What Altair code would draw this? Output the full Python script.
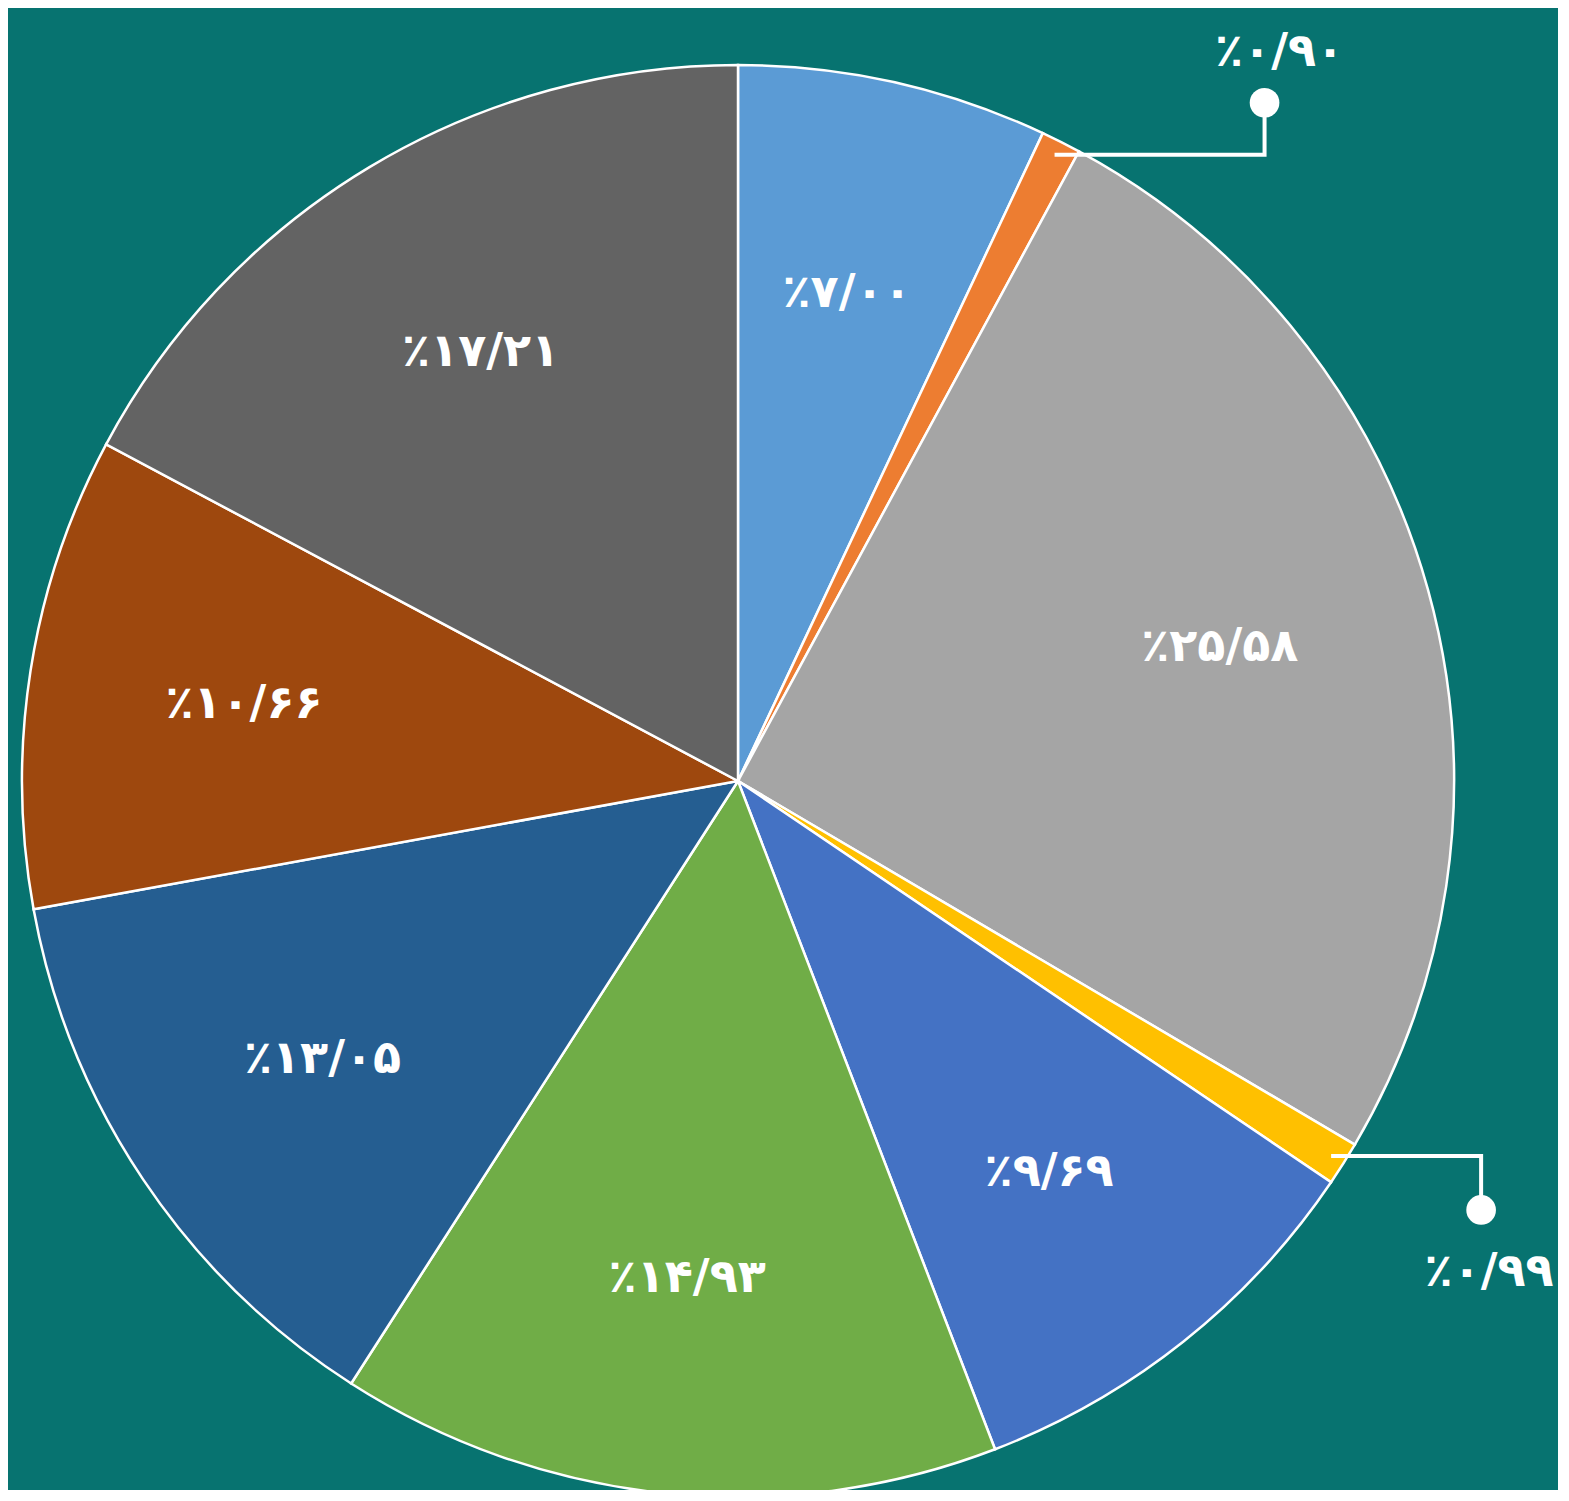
import math
import altair as alt
import pandas as pd

# ---- data ----
values = [7.00, 0.90, 25.58, 0.99, 9.69, 14.93, 13.05, 10.66, 17.21]
colors = ["#5B9BD5", "#ED7D31", "#A5A5A5", "#FFC000", "#4472C4",
          "#70AD47", "#255E91", "#9E480E", "#636363"]

PERSIAN = str.maketrans("0123456789", "۰۱۲۳۴۵۶۷۸۹")


def fa_label(v):
    return "٪" + f"{v:.2f}".replace(".", "/").translate(PERSIAN)


labels = [fa_label(v) for v in values]

# ---- layout constants ----
W, H = 1550, 1482
CX, CY = 730, 773
R = 716
LABEL_R = 500
BG = "#077370"

df = pd.DataFrame({
    "idx": list(range(len(values))),
    "value": values,
    "label": labels,
})

color_scale = alt.Scale(domain=labels, range=colors)

base = alt.Chart(df).encode(
    theta=alt.Theta("value:Q", stack=True),
    order=alt.Order("idx:Q"),
)

pie = base.mark_arc(outerRadius=R, stroke="white", strokeWidth=2.5).encode(
    x=alt.value(CX), y=alt.value(CY),
    color=alt.Color("label:N", scale=color_scale, legend=None),
)

inner_text = base.mark_text(
    radius=LABEL_R, font="DejaVu Sans", fontWeight="bold", fontSize=46,
    color="white", align="center", baseline="middle",
).encode(
    x=alt.value(CX), y=alt.value(CY),
    text=alt.condition("datum.value > 2", alt.Text("label:N"), alt.value("")),
)

# ---- leader lines for the two small slices (derived from slice mid-angles) ----
total = sum(values)
cum = 0.0
mids = []
for v in values:
    mids.append((cum + v / 2) / total * 2 * math.pi)
    cum += v

leader_cfg = {1: (210, -52, -51, 15), 3: (150, 54, 62, 8)}  # dx, dy, label dy, label dx
line_rows, dot_rows, lab_rows = [], [], []
for i, (dx, dy, ldy, ldx) in leader_cfg.items():
    a = mids[i]
    sx = CX + 0.98 * R * math.sin(a)
    sy = CY - 0.98 * R * math.cos(a)
    ex, ey = sx + dx, sy
    px, py = ex, sy + dy
    line_rows += [
        {"g": i, "k": 0, "x": sx, "y": sy},
        {"g": i, "k": 1, "x": ex, "y": ey},
        {"g": i, "k": 2, "x": px, "y": py},
    ]
    dot_rows.append({"x": px, "y": py})
    lab_rows.append({"x": px + ldx, "y": py + ldy, "label": labels[i]})

xs = alt.Scale(domain=[0, W], range=[0, W])
ys = alt.Scale(domain=[0, H], range=[0, H])

lines = alt.Chart(pd.DataFrame(line_rows)).mark_line(
    color="white", strokeWidth=4).encode(
    x=alt.X("x:Q", scale=xs, axis=None),
    y=alt.Y("y:Q", scale=ys, axis=None),
    detail="g:N",
    order="k:Q",
)

dots = alt.Chart(pd.DataFrame(dot_rows)).mark_point(
    filled=True, color="white", opacity=1, size=880, shape="circle").encode(
    x=alt.X("x:Q", scale=xs, axis=None),
    y=alt.Y("y:Q", scale=ys, axis=None),
)

outer_text = alt.Chart(pd.DataFrame(lab_rows)).mark_text(
    font="DejaVu Sans", fontWeight="bold", fontSize=46, color="white",
    align="center", baseline="middle").encode(
    x=alt.X("x:Q", scale=xs, axis=None),
    y=alt.Y("y:Q", scale=ys, axis=None),
    text="label:N",
)

chart = alt.layer(pie, inner_text, lines, dots, outer_text).properties(
    width=W, height=H, background=BG, padding=0,
    autosize=alt.AutoSizeParams(type="none"),
).resolve_scale(x="shared", y="shared").configure_view(stroke=None)

chart.save("out.html", embed_options={"renderer": "svg", "actions": False})
